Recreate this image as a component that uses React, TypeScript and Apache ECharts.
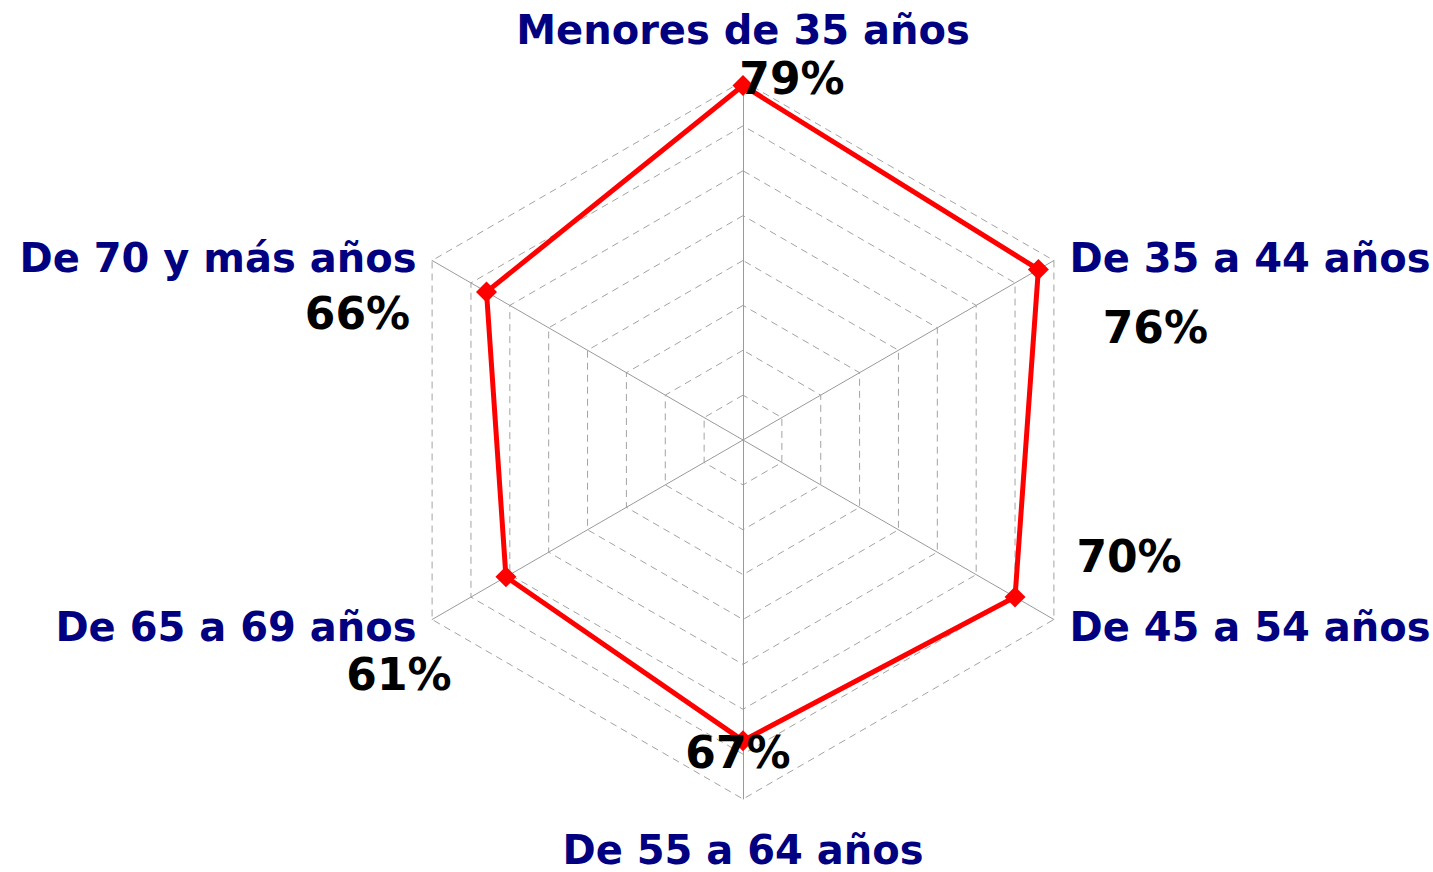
import React, { useEffect, useRef } from "react";
import * as echarts from "echarts";

const CATEGORIES = [
  "Menores de 35 años",
  "De 35 a 44 años",
  "De 45 a 54 años",
  "De 55 a 64 años",
  "De 65 a 69 años",
  "De 70 y más años",
];
const VALUES = [79, 76, 70, 67, 61, 66];
const AXIS_MAX = 80;
const SPLITS = 8;

// ECharts lays radar indicators out counter-clockwise; the reference runs clockwise.
const ORDER = [0, 5, 4, 3, 2, 1];
// per-category name style (vertical nudge) and value-label offsets (layout only)
const NAME_STYLE = ["top", "up", "down", "bottom", "down", "up"];
const LABEL_OFFSETS = [
  [49, -7],
  [117, 58],
  [114, -41],
  [-5, 12],
  [-107, 98],
  [-129, 22],
];

const FONT = "DejaVu Sans";
const NAVY = "#000080";

export default function App() {
  const ref = useRef<HTMLDivElement>(null);
  useEffect(() => {
    if (!ref.current) return;
    const chart = echarts.init(ref.current, undefined, { renderer: "svg" });
    const nameBase = {
      fontFamily: FONT,
      fontSize: 40,
      fontWeight: "bold" as const,
      color: NAVY,
    };
    chart.setOption({
      animation: false,
      backgroundColor: "#ffffff",
      radar: {
        center: [743, 440],
        radius: 359,
        startAngle: 90,
        shape: "polygon",
        splitNumber: SPLITS,
        nameGap: 18,
        indicator: ORDER.map((i) => ({ name: CATEGORIES[i], min: 0, max: AXIS_MAX })),
        axisName: {
          formatter: (name: string) => {
            const k = NAME_STYLE[CATEGORIES.indexOf(name)];
            return `{${k}|${name}}`;
          },
          ...nameBase,
          rich: {
            top: { ...nameBase, padding: [0, 0, 13, 0] },
            up: { ...nameBase, padding: [12, 0, 0, 0] },
            down: { ...nameBase, padding: [0, 0, 4, 0] },
            bottom: { ...nameBase, padding: [13, 0, 0, 0] },
          },
        },
        axisLine: { show: true, lineStyle: { color: "#9a9a9a", width: 1 } },
        axisTick: { show: false },
        axisLabel: { show: false },
        splitLine: { show: true, lineStyle: { color: "#a3a3a3", width: 1, type: [7, 5] } },
        splitArea: { show: false },
      },
      series: [
        {
          type: "radar",
          symbol: "diamond",
          symbolSize: 21,
          lineStyle: { color: "#ff0000", width: 5 },
          itemStyle: { color: "#ff0000" },
          label: {
            show: true,
            position: "inside",
            formatter: (p: any) => `${p.value}%`,
            color: "#000000",
            fontFamily: FONT,
            fontSize: 44,
            fontWeight: "bold",
          },
          labelLayout: (p: any) => {
            const v = parseInt(String(p.text), 10);
            const i = VALUES.indexOf(v);
            const o = LABEL_OFFSETS[i] || [0, 0];
            return { dx: o[0], dy: o[1] };
          },
          data: [{ value: ORDER.map((i) => VALUES[i]), name: "Serie" }],
        },
      ],
    });
    return () => chart.dispose();
  }, []);
  return (
    <div
      ref={ref}
      style={{ position: "fixed", left: 0, top: 0, width: 1433, height: 872, background: "#fff" }}
    />
  );
}
